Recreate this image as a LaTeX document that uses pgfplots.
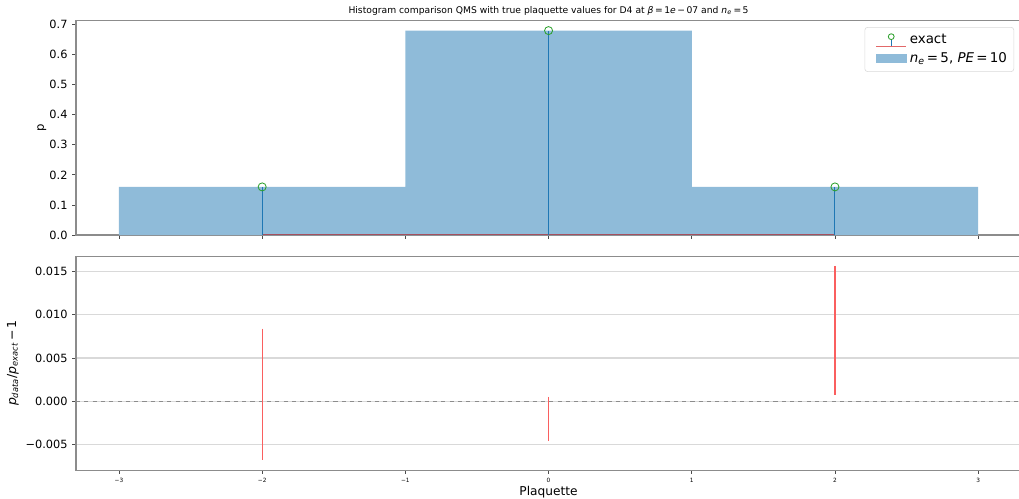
\documentclass[border=0pt]{standalone}
\usepackage{fontspec}
\setmainfont{DejaVu Sans}
\usepackage{pgfplots}
\pgfplotsset{compat=1.18}
\definecolor{Czero}{HTML}{1F77B4}
\definecolor{Chist}{HTML}{8FBBD9}
\definecolor{Ctwo}{HTML}{2CA02C}
\definecolor{Cthree}{HTML}{D62728}
\definecolor{Cbase}{RGB}{165,80,95}
\definecolor{Cerr}{RGB}{250,95,95}
\definecolor{Cspine}{RGB}{140,140,140}
\begin{document}
\begin{tikzpicture}
\path[use as bounding box] (0pt,0pt) rectangle (736.4pt,-360.6pt);
\pgfplotsset{
  common/.style={
    scale only axis, width=683pt,
    xmin=-3.3, xmax=3.3,
    xtick={-3,-2,-1,0,1,2,3},
    tick align=outside, tick pos=left,
    major tick length=2.6pt,
    scaled ticks=false,
    axis line style={Cspine, line width=0.8pt},
    tick style={black!70, line width=0.6pt},
    yticklabel style={font=\fontsize{8.2}{9}\selectfont},
    xticklabel style={font=\fontsize{4.2}{5}\selectfont},
    xlabel style={font=\fontsize{8.8}{10}\selectfont, yshift=4.5pt},
  }
}
\begin{axis}[common,
  name=top, at={(54.93pt,-169.83pt)}, anchor=south west,
  height=155.1pt,
  ymin=0, ymax=0.714,
  xticklabels=\empty,
  ytick={0,0.1,0.2,0.3,0.4,0.5,0.6,0.7},
  yticklabels={0.0,0.1,0.2,0.3,0.4,0.5,0.6,0.7},
  ylabel={p},
  ylabel style={font=\fontsize{8.4}{10}\selectfont, yshift=-4.5pt},
  title={Histogram comparison QMS with true plaquette values for D4 at \textit{β}\,=\,1\textit{e}\,−\,07 and \textit{n}\textsubscript{\textit{e}}\,=\,5},
  title style={font=\fontsize{6.65}{7.5}\selectfont, yshift=-6pt},
  legend style={at={(rel axis cs:0.9926,0.969)}, anchor=north east,
    draw=black!15, rounded corners=2pt, font=\fontsize{9.7}{11}\selectfont,
    row sep=1pt, inner sep=3pt},
  legend cell align=left,
]
\addplot[const plot, fill=Chist, draw=none, forget plot] coordinates {(-3,0.16) (-1,0.68) (1,0.16) (3,0.16)} \closedcycle;
\addplot[Cbase, line width=0.9pt, forget plot] coordinates {(-2,0.0015) (2,0.0015)};
\addplot[ycomb, Czero, line width=0.75pt, forget plot] coordinates {(-2,0.16) (0,0.68) (2,0.16)};
\addplot[only marks, mark=o, mark size=2.9pt, Ctwo, mark options={line width=0.6pt}, forget plot] coordinates {(-2,0.16) (0,0.68) (2,0.16)};
\addlegendimage{legend image code/.code={
  \path (-5pt,0pt);
  \draw[Cthree!70, line width=1.1pt, sharp corners] (0pt,-4.6pt) -- (21.7pt,-4.6pt);
  \draw[Czero, line width=0.6pt, sharp corners] (10.85pt,-4.6pt) -- (10.85pt,0.4pt);
  \draw[Ctwo, line width=0.6pt] (10.85pt,2.4pt) circle (2.1pt);
}}
\addlegendentry{exact}
\addlegendimage{legend image code/.code={
  \path (-5pt,0pt);
  \fill[Chist, sharp corners] (0pt,-2.9pt) rectangle (21.7pt,2.9pt);
}}
\addlegendentry{\textit{n}\textsubscript{\textit{e}}\,=\,5, \textit{PE}\,=\,10}
\end{axis}
\begin{axis}[common,
  name=bot, at={(54.93pt,-339.7pt)}, anchor=south west,
  height=154.6pt,
  ymin=-0.00796, ymax=0.01679,
  xticklabels={−3,−2,−1,0,1,2,3},
  ytick={-0.005,0,0.005,0.01,0.015},
  yticklabels={−0.005,0.000,0.005,0.010,0.015},
  ymajorgrids, grid style={black!15, line width=0.8pt},
  xlabel={Plaquette},
  ylabel={\textit{p}\textsubscript{\textit{data}}/\textit{p}\textsubscript{\textit{exact}}\,−\,1},
  ylabel style={font=\fontsize{9}{10}\selectfont, yshift=-2pt},
]
\addplot[black!45, dashed, line width=0.6pt] coordinates {(-3.3,0) (3.3,0)};
\addplot[Cerr, line width=0.9pt] coordinates {(-2,0.00841) (-2,-0.00683)};
\addplot[Cerr, line width=0.9pt] coordinates {(0,0.00050) (0,-0.00463)};
\addplot[Cerr, line width=0.9pt] coordinates {(2,0.01566) (2,0.00077)};
\end{axis}
\end{tikzpicture}
\end{document}
